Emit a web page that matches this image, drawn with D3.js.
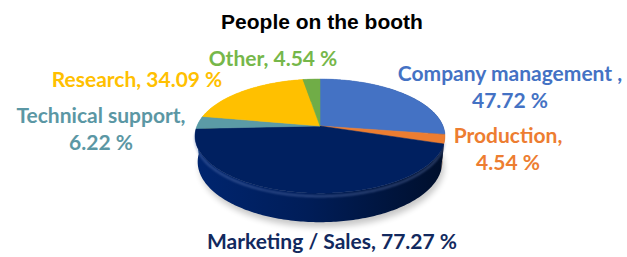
<!DOCTYPE html>
<html>
<head>
<meta charset="utf-8">
<script src="https://cdn.jsdelivr.net/npm/d3@7"></script>
<style>
  html, body { margin: 0; padding: 0; background: #fff; }
  svg { display: block; }
</style>
</head>
<body>
<div id="chart"></div>
<script>
// data
const categories = ["Company management ,", "Production,", "Marketing / Sales,", "Technical support,", "Research,", "Other,"];
const values = [47.72, 4.54, 77.27, 6.22, 34.09, 4.54];
const colors = ["#4472C4", "#ED7D31", "#002060", "#5B9BA6", "#FFC000", "#70AD47"];
const labelColors = ["#4472C4", "#ED7D31", "#12295E", "#5B97A4", "#FFC000", "#76B74A"];

// label layout: center x, first baseline y, split onto two lines or not
const labelLayout = [
    {x: 510, y: 81, split: true},
    {x: 508, y: 143, split: true},
    {x: 332, y: 249, split: false},
    {x: 101, y: 123, split: true},
    {x: 137, y: 87, split: false},
    {x: 273, y: 66, split: false}
];

const width = 627, height = 257;
const cx = 320, cy = 126, R = 123, depth = 29, focal = 621;
const phi = 26.7 * Math.PI / 180;

const fmt = d3.format(".2f");

const svg = d3.select("#chart")
    .append("svg")
    .attr("width", width)
    .attr("height", height);

const defs = svg.append("defs");
defs.append("filter").attr("id", "blur3")
    .attr("x", "-20%").attr("y", "-20%").attr("width", "140%").attr("height", "140%")
    .append("feGaussianBlur").attr("stdDeviation", 3);
defs.append("filter").attr("id", "blur1")
    .append("feGaussianBlur").attr("stdDeviation", 0.8);

// simple perspective projection of a point on the pie disc
function project(theta, r, y) {
    const X = r * Math.sin(theta), Z = r * Math.cos(theta);
    const yv = y * Math.cos(phi) + Z * Math.sin(phi);
    const d = Z * Math.cos(phi) - y * Math.sin(phi);
    const s = focal / (focal + d);
    return [cx + X * s, cy - yv * s];
}

function arcPoints(a0, a1, y) {
    const n = Math.max(2, Math.ceil((a1 - a0) / (Math.PI / 180)));
    return d3.range(n + 1).map(i => project(a0 + (a1 - a0) * i / n, R, y));
}

const line = d3.line().curve(d3.curveLinearClosed);
const openLine = d3.line();

const pie = d3.pie().sort(null).value(d => d);
const arcs = pie(values);

// side gradients, light on the left, dark on the right
colors.forEach((c, i) => {
    const g = defs.append("linearGradient")
        .attr("id", "side" + i)
        .attr("gradientUnits", "userSpaceOnUse")
        .attr("x1", cx - R).attr("x2", cx + R).attr("y1", 0).attr("y2", 0);
    g.append("stop").attr("offset", 0).attr("stop-color", d3.color(c).brighter(0.4));
    g.append("stop").attr("offset", 0.45).attr("stop-color", d3.color(c).darker(0.25));
    g.append("stop").attr("offset", 1).attr("stop-color", d3.color(c).darker(2.2));
});

// soft shadow
svg.append("path")
    .attr("d", line(arcPoints(0, 2 * Math.PI, -depth - 3)))
    .attr("transform", "translate(2,2)")
    .attr("fill", "#000")
    .attr("opacity", 0.22)
    .attr("filter", "url(#blur3)");

// side walls, one piece per slice, back to front
const walls = arcs.map((a, i) => ({i: i, a: a, z: Math.cos((a.startAngle + a.endAngle) / 2)}))
    .sort((p, q) => q.z - p.z);

svg.append("g").selectAll("path")
    .data(walls)
    .enter()
    .append("path")
    .attr("d", w => line(arcPoints(w.a.startAngle, w.a.endAngle, 0)
        .concat(arcPoints(w.a.startAngle, w.a.endAngle, -depth).reverse())))
    .attr("fill", w => "url(#side" + w.i + ")");

// bevel highlight along the front rim
svg.append("path")
    .attr("d", openLine(arcPoints(Math.PI * 0.58, Math.PI * 1.47, -3)))
    .attr("fill", "none")
    .attr("stroke", "#6f86c0")
    .attr("stroke-width", 2)
    .attr("opacity", 0.45)
    .attr("filter", "url(#blur1)");

// top faces
svg.append("g").selectAll("path")
    .data(arcs)
    .enter()
    .append("path")
    .attr("d", a => line([project(0, 0, 0)].concat(arcPoints(a.startAngle, a.endAngle, 0))))
    .attr("fill", (a, i) => colors[i])
    .attr("stroke", (a, i) => colors[i])
    .attr("stroke-width", 0.5);

// title
svg.append("text")
    .attr("x", 322)
    .attr("y", 29)
    .attr("text-anchor", "middle")
    .style("font-family", "'Liberation Sans', Arial, sans-serif")
    .style("font-weight", "bold")
    .style("font-size", "21px")
    .attr("fill", "#000")
    .text("People on the booth");

// data labels
const labels = svg.append("g")
    .style("font-family", "Lato, 'Open Sans', sans-serif")
    .style("font-weight", "bold")
    .style("font-size", "21px");

arcs.forEach((a, i) => {
    const pos = labelLayout[i];
    const pct = fmt(values[i]) + " %";
    const lines = pos.split ? [categories[i], pct] : [categories[i] + " " + pct];
    const t = labels.append("text")
        .attr("text-anchor", "middle")
        .attr("fill", labelColors[i]);
    lines.forEach((l, j) => {
        t.append("tspan")
            .attr("x", pos.x)
            .attr("y", pos.y + j * 27)
            .text(l);
    });
});
</script>
</body>
</html>
